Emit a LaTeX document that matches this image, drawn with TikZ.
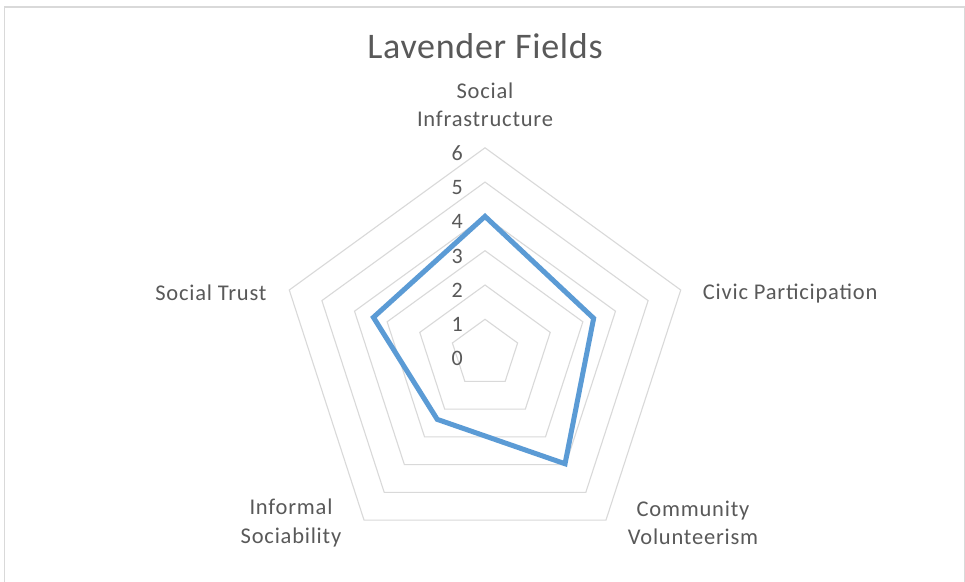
\documentclass[tikz,border=0pt]{standalone}
\usepackage{fontspec}
\setmainfont{Carlito}
\newfontfamily\lblfont[LetterSpace=3.5]{Carlito}
\newfontfamily\ttlfont[LetterSpace=2]{Carlito}
\definecolor{txtgray}{HTML}{595959}
\definecolor{gridgray}{HTML}{D9D9D9}
\definecolor{serblue}{HTML}{5B9BD5}
\begin{document}
\begin{tikzpicture}[x=1pt,y=1pt,
  gridline/.style={draw=gridgray,line width=1.1pt,line join=miter},
  serline/.style={draw=serblue,line width=5pt,line join=miter},
  axlabel/.style={text=txtgray,font={\lblfont\fontsize{22.5}{28.5}\selectfont},align=center,inner sep=0pt},
  ticklabel/.style={text=txtgray,font={\lblfont\fontsize{22}{25}\selectfont},inner sep=0pt,anchor=east},
  titlelabel/.style={text=txtgray,font={\ttlfont\fontsize{36}{40}\selectfont},inner sep=0pt}]
\useasboundingbox (0,0) rectangle (965,581);
\fill[white] (0,0) rectangle (965,581);
\draw[draw=gridgray,line width=1.1pt] (4.5,-10) -- (4.5,574) -- (964.5,574) -- (964.5,-10);
\node[titlelabel] (title) at (485,535) {Lavender Fields};
\begin{scope}[shift={(485,227.4)}]
  \foreach \k in {1,...,6}{
    \draw[gridline] (90:34.3*\k) -- (18:34.3*\k) -- (-54:34.3*\k) -- (-126:34.3*\k) -- (162:34.3*\k) -- cycle;
  }
  \foreach \k in {0,...,6}{
    \node[ticklabel] (t\k) at (-22,34.3*\k-5.3) {\k};
  }
  \coordinate (d1) at (90:34.3*4);
  \coordinate (d2) at (18:34.3*3.33);
  \coordinate (d3) at (-54:34.3*3.97);
  \coordinate (d4) at (-126:34.3*2.37);
  \coordinate (d5) at (162:34.3*3.42);
  \draw[serline] (d1) -- (d2) -- (d3) -- (d4) -- (d5) -- cycle;
\end{scope}
\node[axlabel] (si) at (485,476) {Social\\Infrastructure};
\node[axlabel,anchor=west] (cp) at (702.7,287) {Civic Participation};
\node[axlabel,anchor=east] (st) at (266.7,288) {Social Trust};
\node[axlabel] (is) at (291,58) {Informal\\Sociability};
\node[axlabel] (cv) at (693,58) {Community\\Volunteerism};
\end{tikzpicture}
\end{document}
